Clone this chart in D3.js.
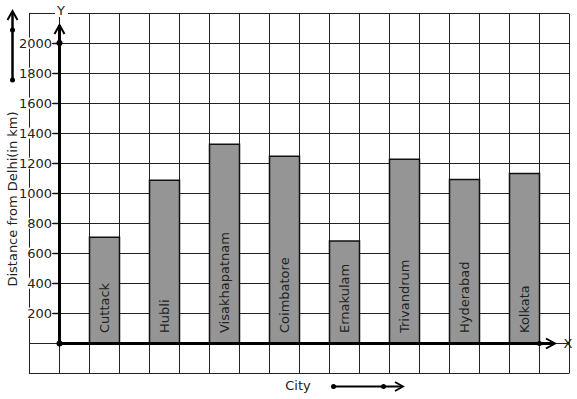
<!DOCTYPE html>
<html><head><meta charset="utf-8">
<script src="https://cdn.jsdelivr.net/npm/d3@7"></script>
<style>html,body{margin:0;padding:0;background:#fff;}svg{display:block;}</style>
</head><body>
<script>
const categories = ["Cuttack","Hubli","Visakhapatnam","Coimbatore","Ernakulam","Trivandrum","Hyderabad","Kolkata"];
const distances = [705, 1085, 1325, 1245, 680, 1225, 1090, 1130];
const yTicks = [200,400,600,800,1000,1200,1400,1600,1800,2000];
const yTitle = "Distance from Delhi(in km)";
const xTitle = "City";

const W = 577, H = 399;
const svg = d3.select("body").append("svg").attr("width", W).attr("height", H)
  .style("font-family", "'DejaVu Sans', sans-serif");

const y = d3.scaleLinear().domain([0, 2000]).range([343, 43]);
const x = d3.scaleBand().domain(categories).range([59, 539]);
const gx = d3.scaleLinear().domain([0, 18]).range([29, 569]);

// grid
const grid = svg.append("g").attr("stroke", "#222").attr("stroke-width", 1);
d3.range(-200, 2201, 200).forEach(v => {
  grid.append("line").attr("x1", 29).attr("x2", 569)
    .attr("y1", Math.round(y(v)) + 0.5).attr("y2", Math.round(y(v)) + 0.5);
});
d3.range(0, 19).forEach(i => {
  grid.append("line").attr("y1", Math.round(y(2200)) + 0.5).attr("y2", Math.round(y(-200)) + 0.5)
    .attr("x1", Math.round(gx(i)) + 0.5).attr("x2", Math.round(gx(i)) + 0.5);
});

// bars
svg.append("g").selectAll("rect").data(categories).join("rect")
  .attr("x", d => x(d) + x.bandwidth() / 2 + 0.5)
  .attr("width", x.bandwidth() / 2)
  .attr("y", (d, i) => y(distances[i]))
  .attr("height", (d, i) => y(0) - y(distances[i]))
  .attr("fill", "#959595").attr("stroke", "#111").attr("stroke-width", 1.5);

// bar labels
svg.append("g").selectAll("text").data(categories).join("text")
  .attr("transform", d => `translate(${x(d) + x.bandwidth() * 0.75 + 5},333) rotate(-90)`)
  .attr("font-size", 13).attr("fill", "#222").text(d => d);

// y axis ticks
const yAxis = d3.axisLeft(y).tickValues(yTicks).tickSize(6).tickPadding(1).tickFormat(d3.format("d"));
const ya = svg.append("g").attr("transform", "translate(59,0)").call(yAxis);
ya.select(".domain").remove();
ya.selectAll(".tick line").attr("stroke", "#111").attr("stroke-width", 1.5);
ya.selectAll(".tick text").attr("font-size", 13).attr("fill", "#222")
  .attr("font-family", "'DejaVu Sans', sans-serif")
  .each(function () {
    const b = this.getBBox();
    d3.select(this.parentNode).insert("rect", "text")
      .attr("x", b.x - 1).attr("y", b.y + 2).attr("width", b.width + 1).attr("height", b.height - 4)
      .attr("fill", "#fff");
  });

// axes lines
const ax = svg.append("g").attr("stroke", "#000").attr("fill", "none");
ax.append("line").attr("x1", 59.5).attr("x2", 59.5).attr("y1", y(0)).attr("y2", 25).attr("stroke-width", 3);
ax.append("path").attr("d", "M54.5,34 L59.5,25 L64.5,34").attr("stroke-width", 2);
ax.append("line").attr("x1", 59).attr("x2", 554).attr("y1", 343.5).attr("y2", 343.5).attr("stroke-width", 3);
ax.append("path").attr("d", "M546,338.5 L555,343.5 L546,348.5").attr("stroke-width", 2);
svg.append("circle").attr("cx", 59.5).attr("cy", y(0) + 0.5).attr("r", 3);
svg.append("circle").attr("cx", 59.5).attr("cy", y(2000)).attr("r", 3);
svg.append("circle").attr("cx", 539.5).attr("cy", 343.5).attr("r", 2.5);

// Y / X labels
svg.append("rect").attr("x", 55).attr("y", 3).attr("width", 13).attr("height", 14).attr("fill", "#fff");
svg.append("text").attr("x", 61).attr("y", 15).attr("text-anchor", "middle").attr("font-size", 13).attr("fill", "#222").text("Y");
svg.append("text").attr("x", 568).attr("y", 348).attr("text-anchor", "middle").attr("font-size", 13).attr("fill", "#222").text("X");

// y title
svg.append("text").attr("transform", "translate(17,199) rotate(-90)").attr("text-anchor", "middle")
  .attr("font-size", 13).attr("fill", "#222").text(yTitle);
// y decoration arrow
const dec = svg.append("g").attr("stroke", "#000").attr("fill", "none");
dec.append("line").attr("x1", 12.5).attr("x2", 12.5).attr("y1", 80).attr("y2", 12).attr("stroke-width", 2.5);
dec.append("path").attr("d", "M7.5,20 L12.5,11 L17.5,20").attr("stroke-width", 2);
svg.append("circle").attr("cx", 12.5).attr("cy", 30).attr("r", 2.5);
svg.append("circle").attr("cx", 12.5).attr("cy", 80).attr("r", 2.5);

// x title
svg.append("text").attr("x", 298).attr("y", 390).attr("text-anchor", "middle")
  .attr("font-size", 13).attr("fill", "#222").text(xTitle);
dec.append("line").attr("x1", 333).attr("x2", 402).attr("y1", 386.5).attr("y2", 386.5).attr("stroke-width", 2);
dec.append("path").attr("d", "M395,382 L403,386.5 L395,391").attr("stroke-width", 1.8);
svg.append("circle").attr("cx", 333.5).attr("cy", 386.5).attr("r", 2.5);
svg.append("circle").attr("cx", 383.5).attr("cy", 386.5).attr("r", 2.5);
</script>
</body></html>
